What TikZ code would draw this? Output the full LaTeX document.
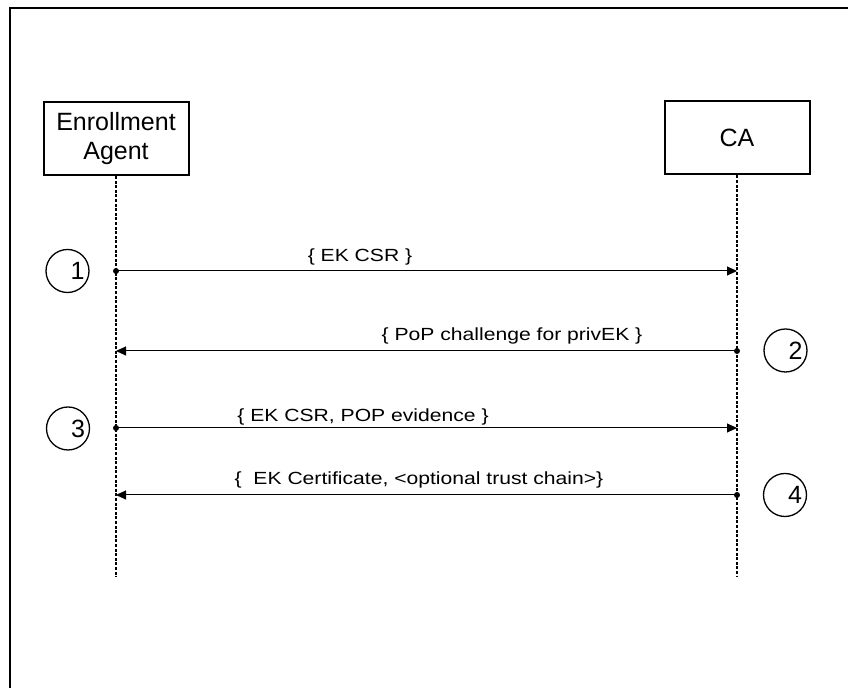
\documentclass[tikz,border=0pt]{standalone}
\usepackage{fontspec}
\setmainfont{Liberation Sans}
\newfontfamily\msgfont[FakeStretch=1.2]{Liberation Sans}
\usetikzlibrary{positioning,arrows.meta}

\begin{document}
\begin{tikzpicture}[x=0.5pt,y=-0.5pt,
    party/.style={rectangle,draw,line width=1pt,minimum width=72.5pt,minimum height=36.5pt,inner sep=0pt,font=\fontsize{12.5}{14.5}\selectfont,align=center},
    life/.style={line width=1pt,dash pattern=on 1.5pt off 0.8pt},
    msg/.style={line width=0.5pt,-{Triangle[length=5pt,width=4.5pt]}},
    lbl/.style={font=\msgfont\fontsize{8.8}{10}\selectfont,inner sep=0pt},
    num/.style={circle,draw,line width=0.65pt,minimum size=21.5pt,inner sep=0pt},
    numtxt/.style={font=\fontsize{12.5}{14}\selectfont,inner sep=0pt}]

\useasboundingbox (0,0) rectangle (848,688);
\draw[line width=1pt] (9.5,688) -- (9.5,8) -- (848,8);

\node[party] (ea) at (116,138.5) {Enrollment\\Agent};
\node[party] (ca) at (737,138) {CA};

\coordinate (eaend) at (116,577);
\coordinate (caend) at (737,577);
\draw[life] (ea) -- (eaend);
\draw[life] (ca) -- (caend);

\coordinate (ea1) at (116,271);
\coordinate (ca1) at (737,271);
\coordinate (ea2) at (116,351);
\coordinate (ca2) at (737,351);
\coordinate (ea3) at (116,428);
\coordinate (ca3) at (737,428);
\coordinate (ea4) at (116,495);
\coordinate (ca4) at (737,495);

\draw[msg] (ea1) -- (ca1);
\fill (ea1) circle (1.5pt);
\node[lbl] (m1) at (360,256.5) {\{ EK CSR \}};

\draw[msg] (ca2) -- (ea2);
\fill (ca2) circle (1.5pt);
\node[lbl] (m2) at (512,335.5) {\{ PoP challenge for privEK \}};

\draw[msg] (ea3) -- (ca3);
\fill (ea3) circle (1.5pt);
\node[lbl] (m3) at (363,416.5) {\{ EK CSR, POP evidence \}};

\draw[msg] (ca4) -- (ea4);
\fill (ca4) circle (1.5pt);
\node[lbl] (m4) at (419,480) {\{\ \ EK Certificate, <optional trust chain>\}};

\node[num] (c1) at (67.5,271) {};
\node[numtxt] (t1) at ([xshift=5pt]c1.center) {1};
\node[num] (c2) at (785.5,350.5) {};
\node[numtxt] (t2) at ([xshift=5pt]c2.center) {2};
\node[num] (c3) at (68,428.5) {};
\node[numtxt] (t3) at ([xshift=5pt]c3.center) {3};
\node[num] (c4) at (785,495) {};
\node[numtxt] (t4) at ([xshift=5pt]c4.center) {4};

\end{tikzpicture}
\end{document}
